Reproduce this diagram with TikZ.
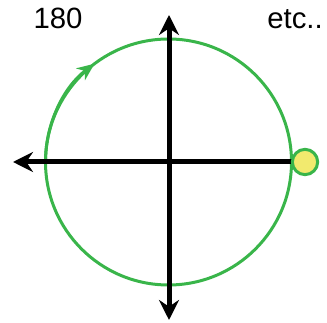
\documentclass[tikz,border=0pt]{standalone}
\usepackage{fontspec}
\setmainfont{Liberation Sans}
\usetikzlibrary{arrows.meta}

\definecolor{ringgreen}{RGB}{57,181,74}
\definecolor{dotyellow}{RGB}{242,234,110}

\tikzset{
  axis/.style={line width=3.75pt, -{Stealth[length=15pt,width=15pt,inset=5pt]}},
  ring/.style={ringgreen, line width=2.25pt},
  label/.style={anchor=base, font=\fontsize{22}{26}\selectfont}
}

\begin{document}
\begin{tikzpicture}[x=0.75pt, y=0.75pt]

\useasboundingbox (0,0) rectangle (327,323);

% Centre and ends of the axes
\coordinate (O) at (168.5,161);
\coordinate (N) at (169,308);
\coordinate (S) at (169,3);
\coordinate (W) at (13,161);

% Circle
\draw[ring] (O) circle (123);

% Direction of travel
\draw[ring, -{Stealth[length=13pt,width=11pt,inset=4pt]}] (O) ++(180:123) arc[start angle=180, end angle=127, radius=123];

% Axes
\draw[axis, {Stealth[length=15pt,width=15pt,inset=5pt]}-{Stealth[length=15pt,width=15pt,inset=5pt]}] (S) -- (N);
\draw[axis] (O) ++(126,0) coordinate (E) -- (W);

% Point on the circle
\node[circle, draw=ringgreen, fill=dotyellow, line width=2.25pt, minimum size=19pt, inner sep=0pt] (P) at (305,161) {};

% Labels
\node[label] (deg) at (58,294) {180};
\node[label] (etc) at (295,294) {etc..};

\end{tikzpicture}
\end{document}
